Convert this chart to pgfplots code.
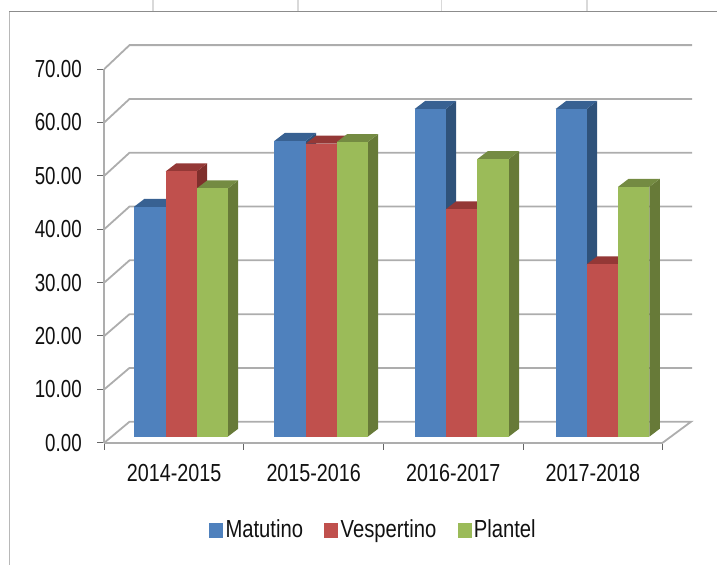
\documentclass[border=0pt]{standalone}
\usepackage{fontspec}
\setmainfont{Liberation Sans}[FakeStretch=0.76]
\newfontfamily\xfont{Liberation Sans}[FakeStretch=0.80]
\newfontfamily\legfont{Liberation Sans}[FakeStretch=0.82]
\usepackage{pgfplots}
\pgfplotsset{compat=1.18}
\definecolor{cblue}{HTML}{4F81BD}
\definecolor{cblues}{HTML}{2F527A}
\definecolor{cbluet}{HTML}{386192}
\definecolor{cred}{HTML}{C0504D}
\definecolor{creds}{HTML}{7F2F2C}
\definecolor{credt}{HTML}{943836}
\definecolor{cgreen}{HTML}{9BBB59}
\definecolor{cgreens}{HTML}{677A38}
\definecolor{cgreent}{HTML}{748B42}
\definecolor{cgrid}{HTML}{ADADAD}
\definecolor{ctxt}{HTML}{111111}
% left edge, right edge, value, front, side, top colours
\newcommand{\threedbar}[6]{%
  \pgfmathsetmacro\ybase{1.12}%
  \pgfmathsetmacro\ytop{#3+1.12}%
  \pgfmathsetmacro\ybb{\ybase+1.50}%
  \pgfmathsetmacro\ytb{\ytop+1.50}%
  \pgfmathsetmacro\xab{#1+0.0752}%
  \pgfmathsetmacro\xbb{#2+0.0752}%
  \edef\doit{%
    \noexpand\addplot[forget plot,draw=none,fill=#5,mark=none] coordinates {(#2,\ybase) (\xbb,\ybb) (\xbb,\ytb) (#2,\ytop)} -- cycle;
    \noexpand\addplot[forget plot,draw=none,fill=#6,mark=none] coordinates {(#1,\ytop) (\xab,\ytb) (\xbb,\ytb) (#2,\ytop)} -- cycle;
    \noexpand\addplot[forget plot,draw=none,fill=#4,mark=none] coordinates {(#1,\ybase) (#1,\ytop) (#2,\ytop) (#2,\ybase)} -- cycle;
  }\doit}
\begin{document}
\begin{tikzpicture}
\path[use as bounding box] (0,0) rectangle (537.75pt,-423.75pt);
\begin{scope}[x=0.75pt,y=-0.75pt]
  \draw[color=black!45,line width=0.9pt] (9.3,11.7) -- (717,11.7);
  \draw[color=black!28,line width=0.7pt] (9.3,11.7) -- (9.3,565);
  \foreach \xx in {153,298,441.7,587} \draw[color=black!15,line width=0.8pt] (\xx,0) -- (\xx,11);
\end{scope}
\begin{axis}[
  at={(78.225pt,-332.025pt)},anchor=south west,
  scale only axis,width=418.8pt,height=280.275pt,
  xmin=0,xmax=4,ymin=0,ymax=70,clip=false,
  axis lines=left,axis line style={-,color=cgrid,line width=1.4pt},
  tick align=outside,major tick length=5.2pt,
  tick style={color=black!60,line width=0.7pt},
  xtick={0,1,2,3,4},x tick label as interval,
  xticklabels={2014-2015,2015-2016,2016-2017,2017-2018},
  ytick={0,10,20,30,40,50,60,70},
  yticklabel style={/pgf/number format/.cd,fixed,fixed zerofill,precision=2,assume math mode=true,/tikz/.cd,xshift=-8.2pt,font=\fontsize{18.5}{20}\selectfont,text=ctxt},
  xticklabel style={yshift=-7.5pt,font=\xfont\fontsize{18.5}{20}\selectfont,text=ctxt},
  legend style={at={(0.1803,-0.2336)},anchor=west,draw=none,fill=none,
    font=\legfont\fontsize{18.5}{20}\selectfont,text=ctxt,
    /tikz/every even column/.append style={column sep=14pt}},
  legend columns=3,
]
% wall and floor lines
\addplot[forget plot,color=cgrid,line width=1.35pt,mark=none] coordinates {(0,0) (0.1805,3.93) (4.203,3.93) (4,0)};
\addplot[forget plot,color=cgrid,line width=1.35pt,mark=none] coordinates {(4,0) (0,0)};
\addplot[forget plot,color=cgrid,line width=1.35pt,mark=none] coordinates {(0,10) (0.1805,14.01) (4.21,14.01)};
\addplot[forget plot,color=cgrid,line width=1.35pt,mark=none] coordinates {(0,20) (0.1805,24.08) (4.21,24.08)};
\addplot[forget plot,color=cgrid,line width=1.35pt,mark=none] coordinates {(0,30) (0.1805,34.16) (4.21,34.16)};
\addplot[forget plot,color=cgrid,line width=1.35pt,mark=none] coordinates {(0,40) (0.1805,44.24) (4.21,44.24)};
\addplot[forget plot,color=cgrid,line width=1.35pt,mark=none] coordinates {(0,50) (0.1805,54.32) (4.21,54.32)};
\addplot[forget plot,color=cgrid,line width=1.35pt,mark=none] coordinates {(0,60) (0.1805,64.39) (4.21,64.39)};
\addplot[forget plot,color=cgrid,line width=1.35pt,mark=none] coordinates {(0,70) (0.1805,74.47) (4.21,74.47)};
% bars
\threedbar{0.2127}{0.4398}{43.07}{cblue}{cblues}{cbluet}
\threedbar{0.4398}{0.6619}{49.7}{cred}{creds}{credt}
\threedbar{0.6619}{0.8839}{46.5}{cgreen}{cgreens}{cgreent}
\threedbar{1.2178}{1.4427}{55.4}{cblue}{cblues}{cbluet}
\threedbar{1.4427}{1.6648}{54.9}{cred}{creds}{credt}
\threedbar{1.6648}{1.8868}{55.2}{cgreen}{cgreens}{cgreent}
\threedbar{2.2235}{2.4456}{61.4}{cblue}{cblues}{cbluet}
\threedbar{2.4456}{2.6719}{42.6}{cred}{creds}{credt}
\threedbar{2.6719}{2.8968}{52.0}{cgreen}{cgreens}{cgreent}
\threedbar{3.2335}{3.4556}{61.4}{cblue}{cblues}{cbluet}
\threedbar{3.4556}{3.6798}{32.3}{cred}{creds}{credt}
\threedbar{3.6798}{3.9040}{46.8}{cgreen}{cgreens}{cgreent}
\addlegendimage{legend image code/.code={\fill[cblue] (0pt,-5.2pt) rectangle (9.8pt,5.2pt);}}
\addlegendentry{Matutino}
\addlegendimage{legend image code/.code={\fill[cred] (0pt,-5.2pt) rectangle (9.8pt,5.2pt);}}
\addlegendentry{Vespertino}
\addlegendimage{legend image code/.code={\fill[cgreen] (0pt,-5.2pt) rectangle (9.8pt,5.2pt);}}
\addlegendentry{Plantel}
\end{axis}
\end{tikzpicture}
\end{document}
